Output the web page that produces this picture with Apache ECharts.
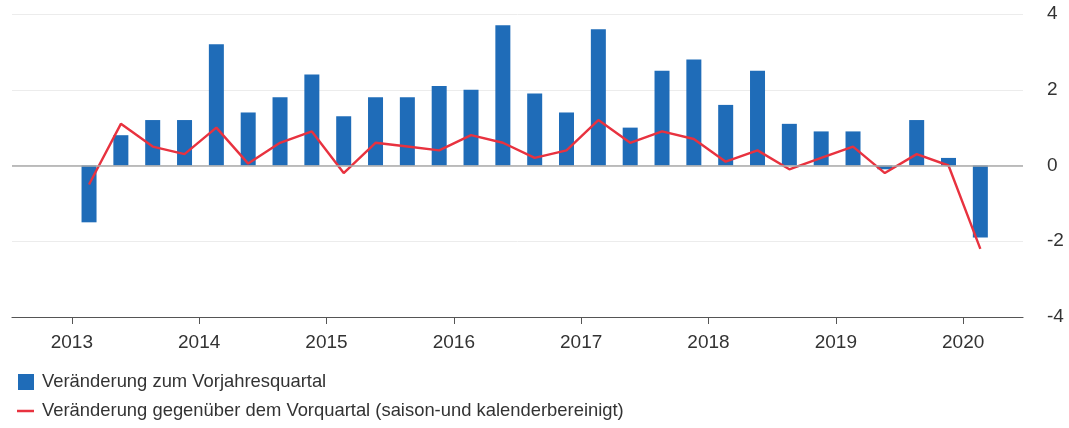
<!DOCTYPE html>
<html><head><meta charset="utf-8">
<script src="https://cdn.jsdelivr.net/npm/echarts@6/dist/echarts.min.js"></script>
<style>html,body{margin:0;padding:0;background:#fff}#c{width:1069px;height:428px}</style>
</head><body><div id="c"></div>
<script>
const quarters = ['2013Q1','2013Q2','2013Q3','2013Q4','2014Q1','2014Q2','2014Q3','2014Q4','2015Q1','2015Q2','2015Q3','2015Q4','2016Q1','2016Q2','2016Q3','2016Q4','2017Q1','2017Q2','2017Q3','2017Q4','2018Q1','2018Q2','2018Q3','2018Q4','2019Q1','2019Q2','2019Q3','2019Q4','2020Q1'];
const yoy = [-1.5,0.8,1.2,1.2,3.2,1.4,1.8,2.4,1.3,1.8,1.8,2.1,2.0,3.7,1.9,1.4,3.6,1.0,2.5,2.8,1.6,2.5,1.1,0.9,0.9,-0.1,1.2,0.2,-1.9];
const qoq = [-0.5,1.1,0.5,0.3,1.0,0.05,0.6,0.9,-0.2,0.6,0.5,0.4,0.8,0.6,0.2,0.4,1.2,0.6,0.9,0.7,0.1,0.4,-0.1,0.2,0.5,-0.2,0.3,0.0,-2.2];
const yearTicks = [2013,2014,2015,2016,2017,2018,2019,2020];
const yTicks = [-4,-2,0,2,4];
const nameBar = 'Veränderung zum Vorjahresquartal';
const nameLine = 'Veränderung gegenüber dem Vorquartal (saison-und kalenderbereinigt)';

function qPos(q){ const y=+q.slice(0,4), n=+q.slice(5); return y + (n-1)/4 + 0.135; }
const barData = quarters.map((q,i)=>[qPos(q), yoy[i]]);
const lineData = quarters.map((q,i)=>[qPos(q), qoq[i]]);

const chart = echarts.init(document.getElementById('c'));
const font = 'Arial, "Liberation Sans", sans-serif';
const legText = {fontSize:18.4,color:'#333',fontFamily:font,padding:[0,0,0,3]};
chart.setOption({
  animation:false,
  grid:{left:12,right:46,top:14,bottom:111},
  xAxis:{type:'value',min:2012.53,max:2020.47,
    axisLine:{show:true,onZero:false,lineStyle:{color:'#555',width:1.2}},
    axisTick:{show:true,length:7,lineStyle:{color:'#555'},customValues:yearTicks},
    axisLabel:{fontSize:19,color:'#333',fontFamily:font,margin:16,customValues:yearTicks,formatter:v=>String(v)},
    splitLine:{show:false}},
  yAxis:{type:'value',position:'right',min:yTicks[0],max:yTicks[yTicks.length-1],interval:2,
    axisLine:{show:false},axisTick:{show:false},
    axisLabel:{fontSize:19,color:'#333',fontFamily:font,margin:24,align:'left',padding:[6,0,0,0]},
    splitLine:{show:true,lineStyle:{color:'#ececec',width:1}}},
  legend:[
    {left:18,top:373,padding:0,itemWidth:16,itemHeight:16,textStyle:legText,
     data:[{name:nameBar,icon:'rect'}]},
    {left:17,top:402,padding:0,itemWidth:17,itemHeight:2.5,textStyle:legText,
     data:[{name:nameLine,icon:'rect'}]}
  ],
  series:[
    {name:nameBar,type:'bar',data:barData,barWidth:15,itemStyle:{color:'#1f6cb8'},
     markLine:{silent:true,symbol:'none',label:{show:false},lineStyle:{color:'#aaa',width:1.5,type:'solid'},data:[{yAxis:0}]}},
    {name:nameLine,type:'line',data:lineData,symbol:'none',lineStyle:{color:'#e8323f',width:2.4},itemStyle:{color:'#e8323f'}}
  ]
});
</script></body></html>
